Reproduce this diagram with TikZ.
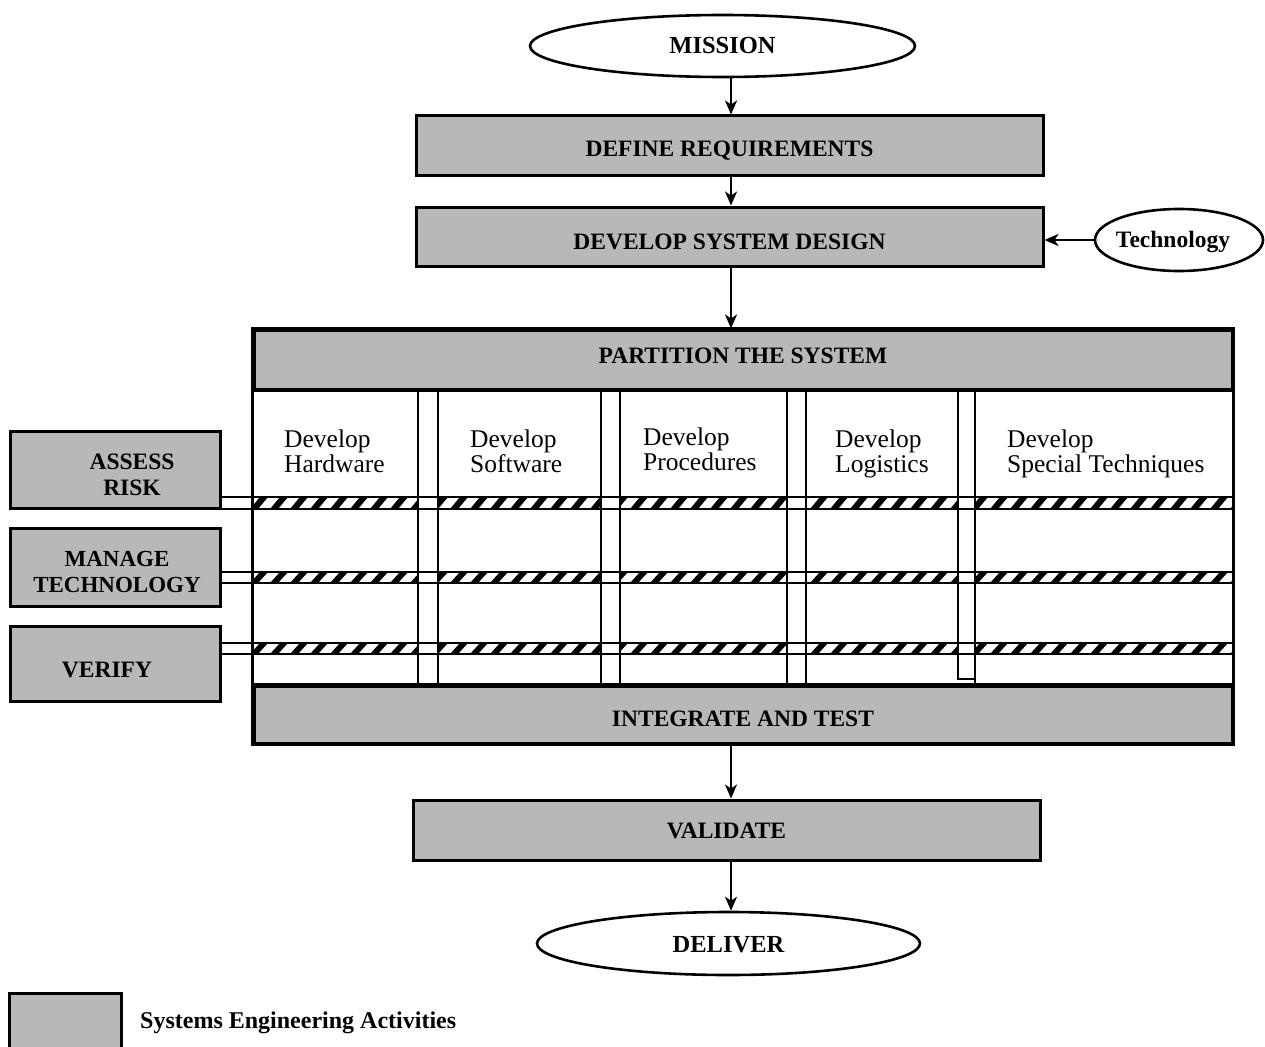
\documentclass[tikz,border=0pt]{standalone}
\usepackage{fontspec}
\setmainfont{Liberation Serif}
\usetikzlibrary{shapes.geometric,arrows.meta}
\colorlet{stipple}{black!28}
\newcommand\hatchbar[2]{%
  \begin{scope}
    \clip (254,#1) rectangle (418,#2) (438,#1) rectangle (601,#2)
          (620,#1) rectangle (787,#2) (806,#1) rectangle (958,#2)
          (975,#1) rectangle (1232,#2);
    \foreach \hx in {230,250,...,1250}{%
      \fill (\hx,#2) -- (\hx+8,#2) -- (\hx+18,#1) -- (\hx+10,#1) -- cycle;}
  \end{scope}
  \draw[barline] (220,#1) -- (1232,#1) (220,#2) -- (1232,#2);
}
\begin{document}
\begin{tikzpicture}[x=1pt,y=-1pt,
  sebox/.style={draw, line width=3pt, fill=stipple, inner sep=0pt},
  ell/.style={ellipse, draw, line width=2.6pt, fill=white, inner sep=0pt},
  capfont/.style={font=\fontsize{23.5}{26}\selectfont\bfseries, inner sep=0pt},
  devfont/.style={font=\fontsize{25.5}{25}\selectfont, align=left, inner sep=0pt, anchor=north west},
  arr/.style={line width=2.2pt, -{Stealth[length=14pt,width=12pt,inset=4pt]}},
  barline/.style={line width=2.8pt},
  gridline/.style={line width=2.8pt}]
\useasboundingbox (0,0) rectangle (1265,1046);

% top chain
\node[ell, minimum width=385, minimum height=62] (mission) at (722.5,46) {};
\node[capfont, font=\fontsize{24.5}{26}\selectfont\bfseries] (missiont) at (mission.center) {MISSION};
\node[sebox, minimum width=627, minimum height=59] (dr) at (729.5,145.5) {};
\node[capfont] (drt) at ([yshift=-5]dr.center) {DEFINE REQUIREMENTS};
\node[sebox, minimum width=627, minimum height=59] (dsd) at (729.5,236.5) {};
\node[capfont] (dsdt) at ([yshift=-5]dsd.center) {DEVELOP SYSTEM DESIGN};
\node[ell, minimum width=168, minimum height=62] (tech) at (1179,240) {};
\node[font=\fontsize{23.5}{24}\selectfont\bfseries, inner sep=0pt] (techt) at (1173,242) {Technology};

% big box
\node[sebox, minimum width=978, minimum height=59] (part) at (743,359.5) {};
\node[capfont] (partt) at ([yshift=4]part.center) {PARTITION THE SYSTEM};
\node[sebox, minimum width=978, minimum height=57] (integ) at (743,714.5) {};
\node[capfont] (integt) at ([yshift=-4]integ.center) {INTEGRATE AND TEST};

% columns labels
\node[devfont] (hw) at (284,430) {Develop\\Hardware};
\node[devfont] (sw) at (470,430) {Develop\\Software};
\node[devfont] (pr) at (643,428) {Develop\\Procedures};
\node[devfont] (lg) at (835,430) {Develop\\Logistics};
\node[devfont] (st) at (1007,430) {Develop\\Special Techniques};

% left boxes
\node[sebox, minimum width=210, minimum height=77] (assess) at (115,469.5) {};
\node[capfont, align=center] (assesst) at (132,475) {ASSESS\\RISK};
\node[sebox, minimum width=210, minimum height=78] (manage) at (115,567) {};
\node[capfont, align=center, font=\fontsize{23}{26}\selectfont\bfseries] (managet) at (117,572) {MANAGE\\TECHNOLOGY};
\node[sebox, minimum width=210, minimum height=75] (verify) at (115,663.5) {};
\node[capfont] (verifyt) at (107,670) {VERIFY};

% hatched bars
\hatchbar{497}{509}
\hatchbar{572}{583}
\hatchbar{643}{654}

% separators
\foreach \sx in {418,438,601,620,787,806,975}{\draw[gridline] (\sx,389) -- (\sx,686);}
\draw[gridline] (958,389) -- (958,679) -- (975,679);

% big box outline
\draw[line width=3pt] (part.north west) rectangle (integ.south east);
\draw[line width=2.8pt] (part.south west) -- (part.south east);
\draw[line width=2.8pt] (integ.north west) -- (integ.north east);

% bottom chain
\node[sebox, minimum width=627, minimum height=60] (valid) at (726.5,830) {};
\node[capfont] (validt) at ([yshift=-1]valid.center) {VALIDATE};
\node[ell, minimum width=383, minimum height=63] (deliver) at (728.5,943.5) {};
\node[capfont, font=\fontsize{24.5}{26}\selectfont\bfseries] (delivert) at ([yshift=-1]deliver.center) {DELIVER};

% arrows
\draw[arr] (mission.south -| 731,0) -- (dr.north -| 731,0);
\draw[arr] (dr.south -| 731,0) -- (dsd.north -| 731,0);
\draw[arr] (dsd.south -| 731,0) -- (part.north -| 731,0);
\draw[arr] (tech.west) -- (tech.west -| dsd.east);
\draw[arr] (integ.south -| 731,0) -- (valid.north -| 731,0);
\draw[arr] (valid.south -| 731,0) -- (deliver.north -| 731,0);

% legend
\node[sebox, minimum width=112, minimum height=70, anchor=north west] (legend) at (8,992) {};
\node[font=\fontsize{24}{24}\selectfont\bfseries, anchor=west, inner sep=0pt] (legendt) at (140,1023) {Systems Engineering Activities};
\end{tikzpicture}
\end{document}
